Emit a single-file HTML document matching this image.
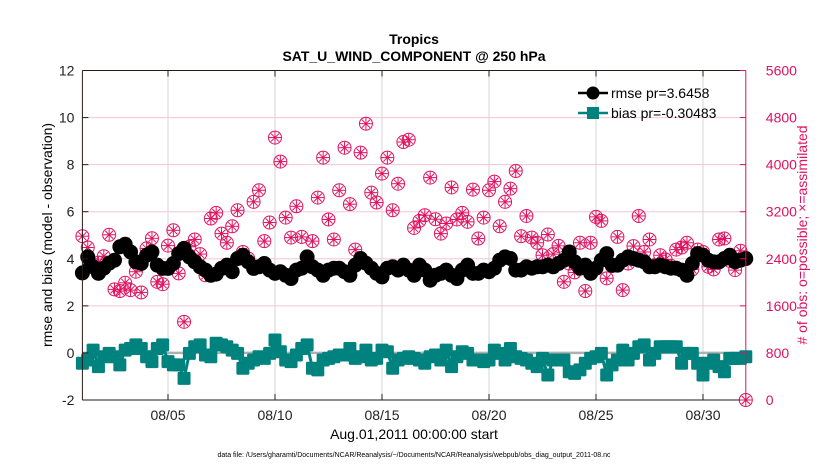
<!DOCTYPE html>
<html><head><meta charset="utf-8"><style>
body{margin:0;background:#fff;width:830px;height:470px;overflow:hidden;font-family:"Liberation Sans",sans-serif}
</style></head><body>
<svg id="chart" width="830" height="470" xmlns="http://www.w3.org/2000/svg" font-family="Liberation Sans, sans-serif">
<text x="414" y="44" text-anchor="middle" font-size="14" font-weight="bold">Tropics</text>
<text x="414" y="61" text-anchor="middle" font-size="14" font-weight="bold">SAT_U_WIND_COMPONENT @ 250 hPa</text>
<g id="grid"></g>
<g id="marks"></g>
<g id="axes"></g>
<text transform="translate(52,235) rotate(-90)" text-anchor="middle" font-size="14">rmse and bias (model - observation)</text>
<text transform="translate(807,235) rotate(-90)" text-anchor="middle" font-size="14" fill="#e0115f">#  of obs: o=possible; ×=assimilated</text>
<text x="414" y="439" text-anchor="middle" font-size="14">Aug.01,2011 00:00:00 start</text>
<text x="414" y="457" text-anchor="middle" font-size="7">data file: /Users/gharamti/Documents/NCAR/Reanalysis/~/Documents/NCAR/Reanalysis/webpub/obs_diag_output_2011-08.nc</text>
<g>
<line x1="578" y1="93" x2="608" y2="93" stroke="#000" stroke-width="2.5"/>
<circle cx="593" cy="93" r="6.5" fill="#000"/>
<text x="611" y="98" font-size="14">rmse pr=3.6458</text>
<line x1="578" y1="113" x2="608" y2="113" stroke="#00827f" stroke-width="2.5"/>
<rect x="587" y="107" width="12" height="12" fill="#00827f"/>
<text x="611" y="118" font-size="14">bias pr=-0.30483</text>
</g>
</svg>
<script>
const tickLabels=["08/05","08/10","08/15","08/20","08/25","08/30"];
const tickDays=[4,9,14,19,24,29];
const leftTicks=[-2,0,2,4,6,8,10,12];
const rightTicks=[0,800,1600,2400,3200,4000,4800,5600];
const rmse=[3.40,4.08,3.66,3.38,3.6,3.81,3.94,4.51,4.62,4.29,3.87,3.8,4.15,4.29,3.73,3.59,3.59,3.80,4.22,4.44,4.08,3.87,3.66,3.52,3.30,3.35,3.59,3.73,3.45,4.01,4.15,3.87,3.59,3.66,3.80,3.52,3.38,3.45,3.30,3.16,3.52,3.6,
4.08,3.66,3.52,3.30,3.52,3.6,3.6,3.45,3.3,3.73,4.01,3.81,3.6,3.38,3.23,3.6,3.66,3.52,3.73,3.52,3.30,3.73,3.52,3.09,3.30,3.38,3.52,3.30,3.16,3.52,3.73,3.38,3.38,3.52,3.45,3.6,3.94,4.08,4.01,3.52,3.52,
3.66,3.6,3.66,3.66,3.73,3.66,3.80,3.94,4.29,3.87,3.6,3.73,3.38,3.6,3.94,4.22,3.73,3.73,3.94,4.08,4.01,3.94,3.87,3.66,3.66,3.73,3.66,3.6,3.6,3.52,3.30,3.80,4.22,4.15,3.94,3.87,3.87,4.01,4.15,3.87,3.94,4.01];
const bias=[-0.44,-0.30,0.12,-0.58,-0.16,-0.02,-0.16,-0.51,0.12,0.19,0.34,0.19,-0.16,-0.37,0.19,0.34,-0.37,-0.51,-0.51,-1.08,-0.02,0.26,0.34,-0.09,-0.16,0.41,0.34,0.26,0.12,-0.02,-0.65,-0.44,-0.30,-0.16,-0.23,-0.02,0.55,0.05,-0.30,-0.37,-0.09,0.19,
0.34,-0.65,-0.72,-0.30,-0.23,-0.16,-0.09,-0.09,0.19,-0.23,-0.16,0.12,-0.30,-0.23,0.12,0.05,-0.65,-0.30,-0.23,-0.16,-0.23,-0.30,-0.44,-0.16,-0.09,-0.30,0.12,-0.58,-0.16,0.05,-0.02,-0.30,-0.30,-0.37,-0.30,0.12,-0.02,-0.30,0.19,-0.16,-0.23,
-0.30,-0.44,-0.58,-0.23,-0.94,-0.30,-0.30,-0.30,-0.80,-0.87,-0.72,-0.44,-0.23,-0.16,-0.02,-0.94,-0.51,-0.30,0.12,-0.30,-0.02,0.26,0.34,-0.30,-0.02,0.26,0.26,0.26,0.26,-0.44,-0.02,-0.02,-0.44,-0.94,-0.44,-0.30,-0.58,-0.80,-0.23,-0.23,-0.23,-0.16];
const obs=[2784,2592,2304,2332,2444,2808,1880,1852,1992,1868,2180,1828,2576,2748,2008,1968,2624,2884,2152,1328,2604,2728,2480,2120,3084,3180,2828,2672,2952,3224,2516,2404,3368,3564,2700,3016,4460,4052,3100,2760,3292,2772,
2424,2700,3440,4120,3068,2728,3564,4288,3328,2556,4204,4696,3524,3356,3848,4120,3224,3676,4384,4424,2924,3044,3140,3780,3072,2828,3000,3612,3068,3180,3028,3576,2744,3100,3564,3712,2952,3368,3592,3892,2784,
3128,2760,2672,2460,2812,2480,2620,2008,2320,2168,2672,1852,2672,3112,3044,2068,2276,2772,1868,2320,2616,3128,2516,2728,2292,2460,2388,2280,2556,2592,2672,2220,2556,2516,2264,2220,2728,2744,2364,2208,2536,0];

const NS="http://www.w3.org/2000/svg";
const X0=82.4,X1=745.8,DAYS=31,Y0=400,Y1=70.5;
function xs(day){return X0+(day/DAYS)*(X1-X0);}
function yl(v){return Y0-(v+2)/14*(Y0-Y1);}
function yr(n){return Y0-n/5600*(Y0-Y1);}
function mk(tag,attrs,parent){const e=document.createElementNS(NS,tag);for(const k in attrs)e.setAttribute(k,attrs[k]);parent.appendChild(e);return e;}
const grid=document.getElementById('grid'),marks=document.getElementById('marks'),axes=document.getElementById('axes');
tickDays.forEach(d=>{const l=mk('line',{x1:xs(d),x2:xs(d),y1:Y1,y2:Y0,stroke:'#d6d6d6','stroke-width':1},grid);

});
rightTicks.forEach(n=>{const l=mk('line',{x1:X0,x2:X1,y1:yr(n),y2:yr(n),stroke:'#f3c6d6','stroke-width':1},grid);

});
const zl=mk('line',{x1:X0,x2:X1,y1:yl(0),y2:yl(0),stroke:'#b0b0b0','stroke-width':2.5},grid);


obs.forEach((n,i)=>{const cx=xs(i*0.25),cy=yr(n);const g=mk('g',{stroke:'#e0115f','stroke-width':1,fill:'none'},marks);


mk('circle',{cx:cx,cy:cy,r:6.5},g);
mk('line',{x1:cx-6,x2:cx+6,y1:cy,y2:cy},g);mk('line',{x1:cx,x2:cx,y1:cy-6,y2:cy+6},g);
mk('line',{x1:cx-4,x2:cx+4,y1:cy-4,y2:cy+4},g);mk('line',{x1:cx-4,x2:cx+4,y1:cy+4,y2:cy-4},g);});
let p='';rmse.forEach((v,i)=>{p+=(i?'L':'M')+xs(i*0.25).toFixed(1)+' '+yl(v).toFixed(1);});
const rl=mk('path',{d:p,stroke:'#000','stroke-width':4,fill:'none'},marks);


rmse.forEach((v,i)=>{const c=mk('circle',{cx:xs(i*0.25),cy:yl(v),r:7.5,fill:'#000'},marks);

});
p='';bias.forEach((v,i)=>{p+=(i?'L':'M')+xs(i*0.25).toFixed(1)+' '+yl(v).toFixed(1);});
const bl=mk('path',{d:p,stroke:'#00827f','stroke-width':3,fill:'none'},marks);


bias.forEach((v,i)=>{const r=mk('rect',{x:xs(i*0.25)-6.5,y:yl(v)-6.5,width:13,height:13,rx:1.5,fill:'#00827f'},marks);

});
const frame=[['line',{x1:X0,x2:X1,y1:Y0,y2:Y0,stroke:'#2a1a1a'}],['line',{x1:X0,x2:X1,y1:Y1,y2:Y1,stroke:'#2a1a1a'}],['line',{x1:X0,x2:X0,y1:Y1,y2:Y0,stroke:'#2a1a1a'}],['line',{x1:X1,x2:X1,y1:Y1,y2:Y0,stroke:'#e0115f'}]];
frame.forEach(f=>{const l=mk(f[0],f[1],axes);

});
tickDays.forEach((d,i)=>{mk('line',{x1:xs(d),x2:xs(d),y1:Y0,y2:Y0-6,stroke:'#2a1a1a'},axes);mk('line',{x1:xs(d),x2:xs(d),y1:Y1,y2:Y1+6,stroke:'#2a1a1a'},axes);
const t=mk('text',{x:xs(d),y:Y0+20,'text-anchor':'middle','font-size':14,fill:'#222'},axes);t.textContent=tickLabels[i];

});
leftTicks.forEach(v=>{mk('line',{x1:X0,x2:X0+6,y1:yl(v),y2:yl(v),stroke:'#2a1a1a'},axes);
const t=mk('text',{x:X0-8,y:yl(v)+5,'text-anchor':'end','font-size':14,fill:'#222'},axes);t.textContent=v;

});
rightTicks.forEach(n=>{mk('line',{x1:X1,x2:X1-6,y1:yr(n),y2:yr(n),stroke:'#e0115f'},axes);
const t=mk('text',{x:X1+20,y:yr(n)+5,'text-anchor':'start','font-size':14,fill:'#e0115f'},axes);t.textContent=n;

});
</script>
</body></html>
